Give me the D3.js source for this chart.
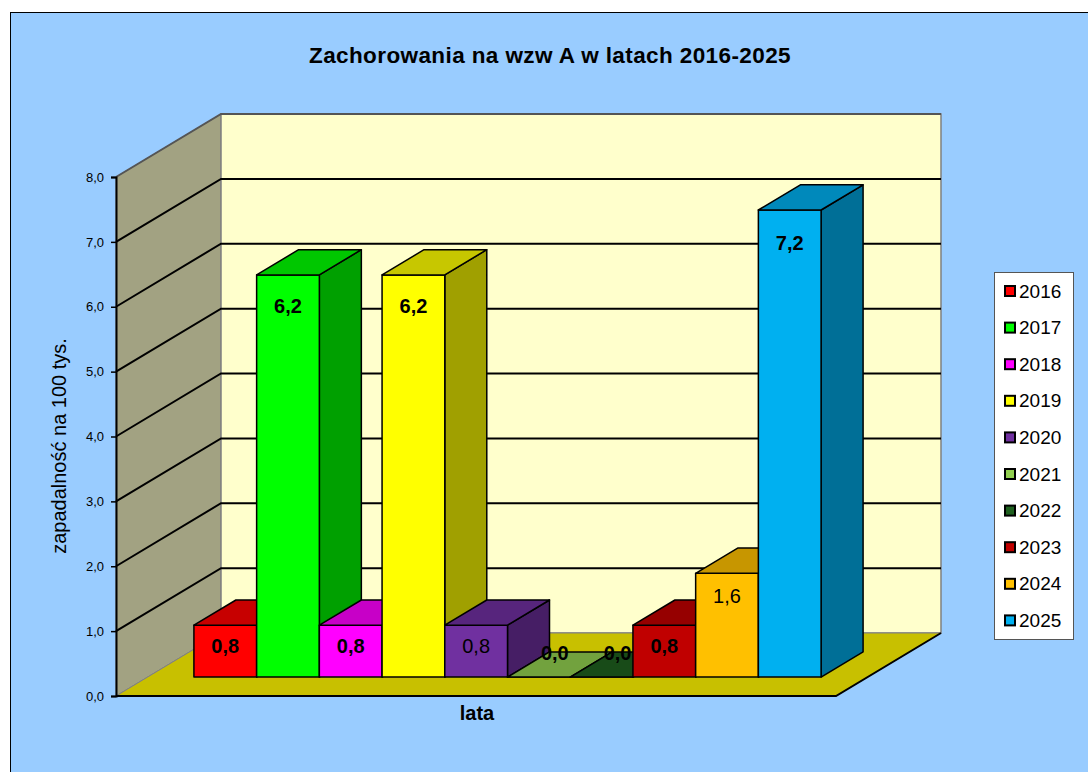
<!DOCTYPE html>
<html>
<head>
<meta charset="utf-8">
<script src="https://cdn.jsdelivr.net/npm/d3@7"></script>
<style>
  body { margin: 0; background: #fff; }
  text { font-family: Arial, "Liberation Sans", sans-serif; }
</style>
</head>
<body>
<svg width="1088" height="772"></svg>
<script>
// data
const years  = ["2016", "2017", "2018", "2019", "2020", "2021", "2022", "2023", "2024", "2025"];
const values = [0.8, 6.2, 0.8, 6.2, 0.8, 0.0, 0.0, 0.8, 1.6, 7.2];
const yTicks = [0, 1, 2, 3, 4, 5, 6, 7, 8];
const chartTitle = "Zachorowania na wzw A w latach 2016-2025";
const yTitle = "zapadalność na 100 tys.";
const xTitle = "lata";

// styles
const barColors = ["#ff0000", "#00ff00", "#ff00ff", "#ffff00", "#7030a0",
                   "#92d050", "#1f601f", "#c00000", "#ffc000", "#00b0f0"];
const boldLabels = ["2016", "2017", "2018", "2019", "2021", "2022", "2023", "2025"];

const svg = d3.select("svg");

const floorLeft = 116, floorRight = 836,
  depthX = 105, depthY = -63,
  barFront = 0.3, barBack = 0.7;

const scaleY = d3.scaleLinear().domain([0, 8]).range([696, 177]);
const scaleX = d3.scaleBand().domain(years).range([floorLeft, floorRight])
  .paddingInner(0).paddingOuter(0.74);
const color = d3.scaleOrdinal().domain(years).range(barColors);
const fmt = d => d3.format(".1f")(d).replace(".", ",");

// project a point (x on front plane, value, depth 0..1)
function proj(x, v, d) {
  return [x + d * depthX, scaleY(v) + d * depthY];
}
const line = d3.line();
const poly = pts => line(pts) + "Z";

// background
svg.append("rect")
  .attr("x", 10.5).attr("y", 12.5)
  .attr("width", 1090).attr("height", 780)
  .attr("fill", "#99ccff").attr("stroke", "#000");

svg.append("text")
  .attr("x", 550).attr("y", 63)
  .attr("text-anchor", "middle")
  .attr("font-size", "22.5px").attr("font-weight", "bold")
  .attr("letter-spacing", "0.4px")
  .text(chartTitle);

// walls
svg.append("path")
  .attr("d", poly([proj(floorLeft, 0, 0), proj(floorLeft, 8, 0), proj(floorLeft, 8, 1), proj(floorLeft, 0, 1)]))
  .attr("fill", "#a2a282").attr("stroke", "#808080");

svg.append("path")
  .attr("d", poly([proj(floorLeft, 0, 1), proj(floorLeft, 8, 1), proj(floorRight, 8, 1), proj(floorRight, 0, 1)]))
  .attr("fill", "#ffffcc").attr("stroke", "#808080").attr("stroke-width", 1.5);

// gridlines
const grid = svg.append("g").attr("class", "grid");
yTicks.filter(t => t > 0).forEach(t => {
  grid.append("path")
    .attr("d", line([proj(floorLeft, t, 0), proj(floorLeft, t, 1), proj(floorRight, t, 1)]))
    .attr("fill", "none")
    .attr("stroke", t == 8 ? "#555" : "#000")
    .attr("stroke-width", 2);
});

// floor
svg.append("path")
  .attr("d", poly([proj(floorLeft, 0, 0), proj(floorRight, 0, 0), proj(floorRight, 0, 1), proj(floorLeft, 0, 1)]))
  .attr("fill", "#c8c000").attr("stroke", "#808080");
svg.append("path")
  .attr("d", line([proj(floorLeft, 0, 0), proj(floorRight, 0, 0), proj(floorRight, 0, 1)]))
  .attr("fill", "none").attr("stroke", "#000").attr("stroke-width", 2);

// bars
const bars = svg.selectAll(".bar")
  .data(years.map((y, i) => ({year: y, value: values[i]})))
  .enter().append("g")
  .attr("class", "bar");

bars.each(function (d) {
  const g = d3.select(this),
    x0 = scaleX(d.year),
    x1 = x0 + scaleX.bandwidth(),
    c = d3.rgb(color(d.year));

  g.append("path")
    .attr("d", poly([proj(x1, 0, barFront), proj(x1, 0, barBack), proj(x1, d.value, barBack), proj(x1, d.value, barFront)]))
    .attr("fill", c.darker(1.3));
  g.append("path")
    .attr("d", poly([proj(x0, 0, barFront), proj(x1, 0, barFront), proj(x1, d.value, barFront), proj(x0, d.value, barFront)]))
    .attr("fill", c);
  g.append("path")
    .attr("d", poly([proj(x0, d.value, barFront), proj(x1, d.value, barFront), proj(x1, d.value, barBack), proj(x0, d.value, barBack)]))
    .attr("fill", c.darker(0.7));
  g.selectAll("path")
    .attr("stroke", "#000").attr("stroke-width", 1.5).attr("stroke-linejoin", "round");
});

// value labels
bars.append("text")
  .attr("x", d => {
    const cx = scaleX(d.year) + scaleX.bandwidth() / 2 + barFront * depthX;
    return d.value == 0 ? cx + 16 : cx;
  })
  .attr("y", d => {
    const top = proj(0, d.value, barFront)[1];
    return d.value == 0 ? top - 24 : top + 19 + 2 * d.value;
  })
  .attr("dy", "0.35em")
  .attr("text-anchor", "middle")
  .attr("font-size", "20px")
  .attr("font-weight", d => boldLabels.includes(d.year) ? "bold" : "normal")
  .text(d => fmt(d.value));

// y axis
const yAxis = svg.append("g")
  .attr("class", "axis axis--y")
  .attr("transform", `translate(${floorLeft},0)`)
  .call(d3.axisLeft(scaleY).tickValues(yTicks).tickFormat(fmt).tickSize(5).tickPadding(7));
yAxis.select(".domain").attr("stroke-width", 2);
yAxis.selectAll(".tick line").attr("stroke-width", 1.5);
yAxis.selectAll("text")
  .attr("font-size", "13px")
  .attr("font-family", "Arial, 'Liberation Sans', sans-serif");

svg.append("text")
  .attr("transform", "translate(66,446) rotate(-90)")
  .attr("text-anchor", "middle")
  .attr("font-size", "20px")
  .text(yTitle);

svg.append("text")
  .attr("x", 477).attr("y", 720)
  .attr("text-anchor", "middle")
  .attr("font-size", "20px").attr("font-weight", "bold")
  .text(xTitle);

// legend
const legend = svg.append("g").attr("transform", "translate(994,272)");
legend.append("rect")
  .attr("x", 0.5).attr("y", 0.5)
  .attr("width", 79).attr("height", 367)
  .attr("fill", "#fff").attr("stroke", "#555");

const item = legend.selectAll(".item")
  .data(years)
  .enter().append("g")
  .attr("class", "item")
  .attr("transform", (d, i) => `translate(0,${19 + i * 36.6})`);

item.append("rect")
  .attr("x", 11).attr("y", -5)
  .attr("width", 10).attr("height", 10)
  .attr("fill", d => color(d))
  .attr("stroke", "#000").attr("stroke-width", 2);

item.append("text")
  .attr("x", 25).attr("y", 6.5)
  .attr("font-size", "19px")
  .text(d => d);
</script>
</body>
</html>
